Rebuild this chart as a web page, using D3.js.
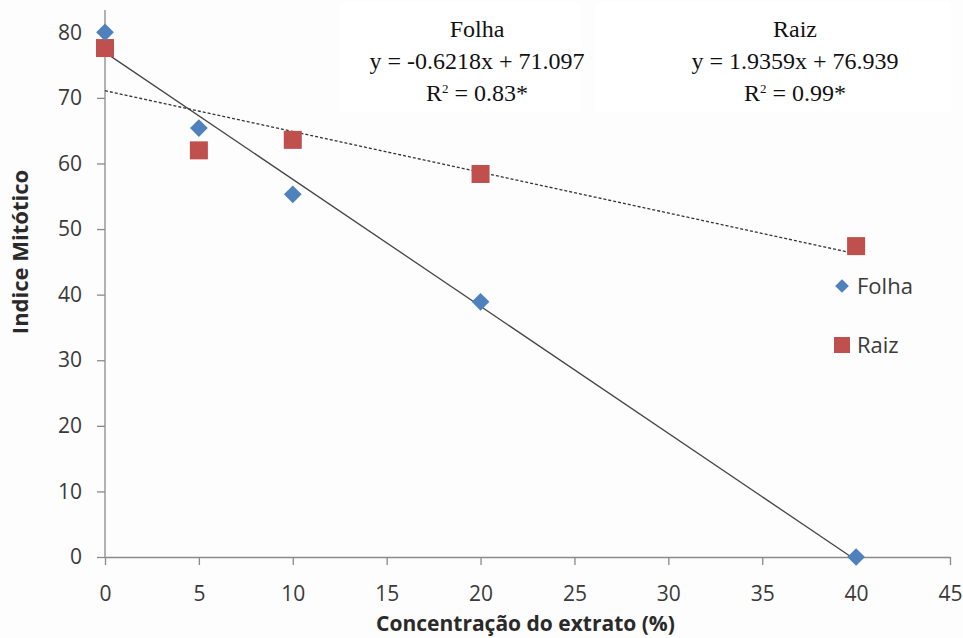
<!DOCTYPE html>
<html>
<head>
<meta charset="utf-8">
<script src="https://cdn.jsdelivr.net/npm/d3@7"></script>
<style>
  body { margin: 0; background: #fdfdfd; }
  svg { display: block; }
</style>
</head>
<body>
<svg id="chart"></svg>
<script>
const concentrations = [0, 5, 10, 20, 40];
const folhaValues = [80, 65.4, 55.3, 38.9, 0];
const raizValues = [77.6, 62.0, 63.6, 58.4, 47.4];
const xTicks = [0, 5, 10, 15, 20, 25, 30, 35, 40, 45];
const yTicks = [0, 10, 20, 30, 40, 50, 60, 70, 80];
// trend lines as drawn: [intercept, slope]
const solidTrend = [76.939, -1.9359];
const dashedTrend = [71.097, -0.6218];
const equations = [
  { title: 'Folha', eq: 'y = -0.6218x + 71.097', r2: '0.83*' },
  { title: 'Raiz', eq: 'y = 1.9359x + 76.939', r2: '0.99*' }
];

const W = 963, H = 638;
const M = { left: 105, right: 13, top: 10, bottom: 81 };

const svg = d3.select('#chart').attr('width', W).attr('height', H);

const x = d3.scaleLinear().domain([0, 45]).range([M.left, W - M.right]);
const y = d3.scaleLinear().domain([0, 83.4]).range([H - M.bottom, M.top]);

const labelFont = '"Open Sans", Lato, sans-serif';
const axisColor = '#8a8a8a';

// equation boxes
svg.append('rect').attr('x', 340).attr('y', 2).attr('width', 240).attr('height', 110).attr('fill', '#fff');
svg.append('rect').attr('x', 595).attr('y', 2).attr('width', 355).attr('height', 110).attr('fill', '#fff');

// axes
const xAxis = svg.append('g')
  .attr('transform', `translate(0,${y(0)})`)
  .call(d3.axisBottom(x).tickValues(xTicks).tickSize(8).tickSizeOuter(0).tickPadding(21));
const yAxis = svg.append('g')
  .attr('transform', `translate(${x(0)},0)`)
  .call(d3.axisLeft(y).tickValues(yTicks).tickSize(8).tickSizeOuter(0).tickPadding(15));

[xAxis, yAxis].forEach(g => {
  g.selectAll('path, line').attr('stroke', axisColor).attr('stroke-width', 1.3);
  g.selectAll('text').attr('font-family', labelFont).attr('font-size', 21).attr('fill', '#3a3a3a');
});
yAxis.select('path').attr('d', `M0,${y(0)}V${M.top}`);

// trend lines
const xr = d3.extent(concentrations);
const line = d3.line().x(d => x(d[0])).y(d => y(d[1]));
svg.append('path')
  .attr('d', line(xr.map(v => [v, solidTrend[0] + solidTrend[1] * v])))
  .attr('fill', 'none').attr('stroke', '#454545').attr('stroke-width', 1.3);
svg.append('path')
  .attr('d', line(xr.map(v => [v, dashedTrend[0] + dashedTrend[1] * v])))
  .attr('fill', 'none').attr('stroke', '#333').attr('stroke-width', 1.3).attr('stroke-dasharray', '3,2');

const blue = '#4f81bd', red = '#c0504d';
const diamond = d3.symbol().type(d3.symbolDiamond2).size(200);

svg.append('g').selectAll('rect')
  .data(concentrations.map((c, i) => [c, raizValues[i]]))
  .join('rect')
  .attr('x', d => x(d[0]) - 9).attr('y', d => y(d[1]) - 9)
  .attr('width', 18).attr('height', 18).attr('fill', red);

svg.append('g').selectAll('path')
  .data(concentrations.map((c, i) => [c, folhaValues[i]]))
  .join('path')
  .attr('d', diamond)
  .attr('transform', d => `translate(${x(d[0])},${y(d[1])})`)
  .attr('fill', blue);

// legend
const lg = svg.append('g').attr('font-family', labelFont).attr('font-size', 22).attr('fill', '#3a3a3a');
lg.append('path').attr('d', d3.symbol().type(d3.symbolDiamond2).size(120))
  .attr('transform', 'translate(842,286)').attr('fill', blue);
lg.append('text').attr('x', 857).attr('y', 286).attr('dy', '0.35em').text('Folha');
lg.append('rect').attr('x', 834).attr('y', 337).attr('width', 16).attr('height', 16).attr('fill', red);
lg.append('text').attr('x', 857).attr('y', 345).attr('dy', '0.35em').text('Raiz');

// equations
const eqCenters = [477, 795];
equations.forEach((e, i) => {
  const t = svg.append('text').attr('text-anchor', 'middle')
    .attr('font-family', '"Liberation Serif", "DejaVu Serif", serif').attr('font-size', 24).attr('fill', '#111');
  t.append('tspan').attr('x', eqCenters[i]).attr('y', 37).text(e.title);
  t.append('tspan').attr('x', eqCenters[i]).attr('y', 69).text(e.eq);
  const r = t.append('tspan').attr('x', eqCenters[i]).attr('y', 101);
  r.append('tspan').text('R');
  r.append('tspan').attr('font-size', 13).attr('dy', -8).text('2');
  r.append('tspan').attr('dy', 8).text(' = ' + e.r2);
});

// axis titles
svg.append('text').attr('x', (x(0) + x(45)) / 2 - 2).attr('y', 631)
  .attr('text-anchor', 'middle').attr('font-family', labelFont).attr('font-weight', 'bold')
  .attr('font-size', 21).attr('fill', '#2a2a2a').text('Concentração do extrato (%)');
svg.append('text').attr('transform', `translate(28,${y(46.5)}) rotate(-90)`)
  .attr('text-anchor', 'middle').attr('font-family', labelFont).attr('font-weight', 'bold')
  .attr('font-size', 22).attr('fill', '#2a2a2a').text('Indice Mitótico');
</script>
</body>
</html>
